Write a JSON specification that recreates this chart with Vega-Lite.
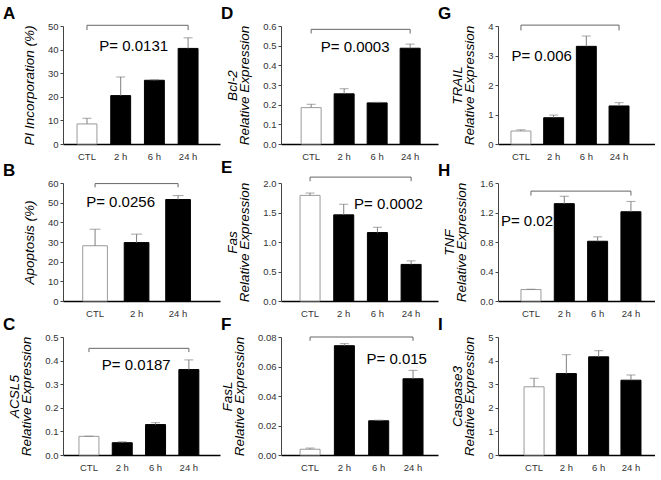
{
 "$schema": "https://vega.github.io/schema/vega-lite/v6.json",
 "padding": {"left": 3, "top": 5, "right": 0, "bottom": 0},
 "background": "white",
 "datasets": {
  "bars": [
   {"p":"A","c":"CTL","v":8.5,"hi":10.9},{"p":"A","c":"2 h","v":20.5,"hi":28.4},{"p":"A","c":"6 h","v":27.0,"hi":27.2},{"p":"A","c":"24 h","v":40.5,"hi":45.0},
   {"p":"B","c":"CTL","v":28.1,"hi":36.5},{"p":"B","c":"2 h","v":29.7,"hi":34.0},{"p":"B","c":"24 h","v":51.6,"hi":53.6},
   {"p":"C","c":"CTL","v":0.079,"hi":0.080},{"p":"C","c":"2 h","v":0.052,"hi":0.056},{"p":"C","c":"6 h","v":0.129,"hi":0.137},{"p":"C","c":"24 h","v":0.362,"hi":0.403},
   {"p":"D","c":"CTL","v":0.185,"hi":0.202},{"p":"D","c":"2 h","v":0.255,"hi":0.281},{"p":"D","c":"6 h","v":0.209,"hi":0.212},{"p":"D","c":"24 h","v":0.487,"hi":0.508},
   {"p":"E","c":"CTL","v":1.79,"hi":1.83},{"p":"E","c":"2 h","v":1.46,"hi":1.64},{"p":"E","c":"6 h","v":1.16,"hi":1.25},{"p":"E","c":"24 h","v":0.62,"hi":0.68},
   {"p":"F","c":"CTL","v":0.0039,"hi":0.0047},{"p":"F","c":"2 h","v":0.0741,"hi":0.0755},{"p":"F","c":"6 h","v":0.0232,"hi":0.0236},{"p":"F","c":"24 h","v":0.0517,"hi":0.0574},
   {"p":"G","c":"CTL","v":0.44,"hi":0.48},{"p":"G","c":"2 h","v":0.89,"hi":0.98},{"p":"G","c":"6 h","v":3.31,"hi":3.66},{"p":"G","c":"24 h","v":1.29,"hi":1.40},
   {"p":"H","c":"CTL","v":0.155,"hi":0.16},{"p":"H","c":"2 h","v":1.32,"hi":1.42},{"p":"H","c":"6 h","v":0.81,"hi":0.87},{"p":"H","c":"24 h","v":1.21,"hi":1.35},
   {"p":"I","c":"CTL","v":2.89,"hi":3.25},{"p":"I","c":"2 h","v":3.45,"hi":4.25},{"p":"I","c":"6 h","v":4.16,"hi":4.42},{"p":"I","c":"24 h","v":3.17,"hi":3.39}
  ],
  "brk": [
   {"p":"A","c":"CTL","y":48.3,"o":1},{"p":"A","c":"CTL","y":50.3,"o":2},{"p":"A","c":"24 h","y":50.3,"o":3},{"p":"A","c":"24 h","y":48.3,"o":4},
   {"p":"B","c":"CTL","y":57.8,"o":1},{"p":"B","c":"CTL","y":59.7,"o":2},{"p":"B","c":"24 h","y":59.7,"o":3},{"p":"B","c":"24 h","y":57.8,"o":4},
   {"p":"C","c":"CTL","y":0.436,"o":1},{"p":"C","c":"CTL","y":0.452,"o":2},{"p":"C","c":"24 h","y":0.452,"o":3},{"p":"C","c":"24 h","y":0.436,"o":4},
   {"p":"D","c":"CTL","y":0.562,"o":1},{"p":"D","c":"CTL","y":0.583,"o":2},{"p":"D","c":"24 h","y":0.583,"o":3},{"p":"D","c":"24 h","y":0.562,"o":4},
   {"p":"E","c":"CTL","y":2.03,"o":1},{"p":"E","c":"CTL","y":2.1,"o":2},{"p":"E","c":"24 h","y":2.1,"o":3},{"p":"E","c":"24 h","y":2.03,"o":4},
   {"p":"F","c":"CTL","y":0.0774,"o":1},{"p":"F","c":"CTL","y":0.08,"o":2},{"p":"F","c":"24 h","y":0.08,"o":3},{"p":"F","c":"24 h","y":0.0774,"o":4},
   {"p":"G","c":"CTL","y":3.85,"o":1},{"p":"G","c":"CTL","y":4.03,"o":2},{"p":"G","c":"24 h","y":4.03,"o":3},{"p":"G","c":"24 h","y":3.85,"o":4},
   {"p":"H","c":"CTL","y":1.43,"o":1},{"p":"H","c":"CTL","y":1.49,"o":2},{"p":"H","c":"24 h","y":1.49,"o":3},{"p":"H","c":"24 h","y":1.43,"o":4}
  ],
  "pv": [
   {"p":"A","c":"2 h","y":41.7,"t":"P= 0.0131"},
   {"p":"B","c":"2 h","y":50.4,"t":"P= 0.0256"},
   {"p":"C","c":"2 h","y":0.38,"t":"P= 0.0187"},
   {"p":"D","c":"2 h","y":0.494,"t":"P= 0.0003"},
   {"p":"E","c":"6 h","y":1.64,"t":"P= 0.0002"},
   {"p":"F","c":"6 h","y":0.0652,"t":"P= 0.015"},
   {"p":"G","c":"2 h","y":3.0,"t":"P= 0.006"},
   {"p":"H","c":"CTL","y":1.09,"t":"P= 0.02"}
  ]
 },
 "columns": 3,
 "spacing": {"row": -2, "column": 0},
 "resolve": {"scale": {"x": "independent", "y": "independent"}},
 "concat": [
  {
   "title": "A", "width": 157, "height": 118,
   "encoding": {"x": {"field":"c","type":"nominal","sort":["CTL","2 h","6 h","24 h"],"scale":{"domain":["CTL","2 h","6 h","24 h"],"paddingInner":0.41,"paddingOuter":0.534,"align":0.39}}},
   "layer": [
    {"data":{"name":"bars"},"transform":[{"filter":"datum.p=='A'"}],"mark":{"type":"bar","strokeWidth":1},
     "encoding":{"y":{"field":"v","type":"quantitative","title":"PI Incorporation (%)","scale":{"domain":[0,50],"nice":false},"axis":{"values":[0,10,20,30,40,50],"tickCount":20,"format":"d","labelOverlap":false,"labelBound":false}},
      "fill":{"field":"c","type":"nominal","scale":{"domain":["CTL","2 h","6 h","24 h"],"range":["white","black","black","black"]},"legend":null},
      "stroke":{"field":"c","type":"nominal","scale":{"domain":["CTL","2 h","6 h","24 h"],"range":["#9a9a9a","black","black","black"]},"legend":null}}},
    {"data":{"name":"bars"},"transform":[{"filter":"datum.p=='A'"}],"mark":{"type":"rule","color":"#7f7f7f"},"encoding":{"y":{"field":"v","type":"quantitative","title":"PI Incorporation (%)"},"y2":{"field":"hi"}}},
    {"data":{"name":"bars"},"transform":[{"filter":"datum.p=='A'"}],"mark":{"type":"tick","color":"#7f7f7f","size":9,"thickness":1},"encoding":{"y":{"field":"hi","type":"quantitative","title":"PI Incorporation (%)"}}},
    {"data":{"name":"brk"},"transform":[{"filter":"datum.p=='A'"}],"mark":{"type":"line","color":"#666","strokeWidth":1},"encoding":{"y":{"field":"y","type":"quantitative","title":"PI Incorporation (%)"},"order":{"field":"o","type":"quantitative"}}},
    {"data":{"name":"pv"},"transform":[{"filter":"datum.p=='A'"}],"mark":{"type":"text","fontSize":15,"dx":13,"baseline":"middle"},"encoding":{"y":{"field":"y","type":"quantitative","title":"PI Incorporation (%)"},"text":{"field":"t"}}}
   ]
  },
  {
   "title": "D", "width": 157, "height": 118,
   "encoding": {"x": {"field":"c","type":"nominal","sort":["CTL","2 h","6 h","24 h"],"scale":{"domain":["CTL","2 h","6 h","24 h"],"paddingInner":0.394,"paddingOuter":0.576,"align":0.53}}},
   "layer": [
    {"data":{"name":"bars"},"transform":[{"filter":"datum.p=='D'"}],"mark":{"type":"bar","strokeWidth":1},
     "encoding":{"y":{"field":"v","type":"quantitative","title":["Bcl-2","Relative Expression"],"scale":{"domain":[0,0.6],"nice":false},"axis":{"values":[0,0.1,0.2,0.3,0.4,0.5,0.6],"tickCount":20,"format":".1f","labelOverlap":false,"labelBound":false}},
      "fill":{"field":"c","type":"nominal","scale":{"domain":["CTL","2 h","6 h","24 h"],"range":["white","black","black","black"]},"legend":null},
      "stroke":{"field":"c","type":"nominal","scale":{"domain":["CTL","2 h","6 h","24 h"],"range":["#9a9a9a","black","black","black"]},"legend":null}}},
    {"data":{"name":"bars"},"transform":[{"filter":"datum.p=='D'"}],"mark":{"type":"rule","color":"#7f7f7f"},"encoding":{"y":{"field":"v","type":"quantitative","title":["Bcl-2","Relative Expression"]},"y2":{"field":"hi"}}},
    {"data":{"name":"bars"},"transform":[{"filter":"datum.p=='D'"}],"mark":{"type":"tick","color":"#7f7f7f","size":9,"thickness":1},"encoding":{"y":{"field":"hi","type":"quantitative","title":["Bcl-2","Relative Expression"]}}},
    {"data":{"name":"brk"},"transform":[{"filter":"datum.p=='D'"}],"mark":{"type":"line","color":"#666","strokeWidth":1},"encoding":{"y":{"field":"y","type":"quantitative","title":["Bcl-2","Relative Expression"]},"order":{"field":"o","type":"quantitative"}}},
    {"data":{"name":"pv"},"transform":[{"filter":"datum.p=='D'"}],"mark":{"type":"text","fontSize":15,"dx":11,"baseline":"middle"},"encoding":{"y":{"field":"y","type":"quantitative","title":["Bcl-2","Relative Expression"]},"text":{"field":"t"}}}
   ]
  },
  {
   "title": "G", "width": 157, "height": 118,
   "encoding": {"x": {"field":"c","type":"nominal","sort":["CTL","2 h","6 h","24 h"],"scale":{"domain":["CTL","2 h","6 h","24 h"],"paddingInner":0.39,"paddingOuter":0.596,"align":0.333}}},
   "layer": [
    {"data":{"name":"bars"},"transform":[{"filter":"datum.p=='G'"}],"mark":{"type":"bar","strokeWidth":1},
     "encoding":{"y":{"field":"v","type":"quantitative","title":["TRAIL","Relative Expression"],"scale":{"domain":[0,4],"nice":false},"axis":{"values":[0,1,2,3,4],"tickCount":20,"format":"d","labelOverlap":false,"labelBound":false}},
      "fill":{"field":"c","type":"nominal","scale":{"domain":["CTL","2 h","6 h","24 h"],"range":["white","black","black","black"]},"legend":null},
      "stroke":{"field":"c","type":"nominal","scale":{"domain":["CTL","2 h","6 h","24 h"],"range":["#9a9a9a","black","black","black"]},"legend":null}}},
    {"data":{"name":"bars"},"transform":[{"filter":"datum.p=='G'"}],"mark":{"type":"rule","color":"#7f7f7f"},"encoding":{"y":{"field":"v","type":"quantitative","title":["TRAIL","Relative Expression"]},"y2":{"field":"hi"}}},
    {"data":{"name":"bars"},"transform":[{"filter":"datum.p=='G'"}],"mark":{"type":"tick","color":"#7f7f7f","size":9,"thickness":1},"encoding":{"y":{"field":"hi","type":"quantitative","title":["TRAIL","Relative Expression"]}}},
    {"data":{"name":"brk"},"transform":[{"filter":"datum.p=='G'"}],"mark":{"type":"line","color":"#666","strokeWidth":1},"encoding":{"y":{"field":"y","type":"quantitative","title":["TRAIL","Relative Expression"]},"order":{"field":"o","type":"quantitative"}}},
    {"data":{"name":"pv"},"transform":[{"filter":"datum.p=='G'"}],"mark":{"type":"text","fontSize":15,"dx":-12,"baseline":"middle"},"encoding":{"y":{"field":"y","type":"quantitative","title":["TRAIL","Relative Expression"]},"text":{"field":"t"}}}
   ]
  },
  {
   "title": "B", "width": 157, "height": 118,
   "encoding": {"x": {"field":"c","type":"nominal","sort":["CTL","2 h","24 h"],"scale":{"domain":["CTL","2 h","24 h"],"paddingInner":0.405,"paddingOuter":0.594,"align":0.4}}},
   "layer": [
    {"data":{"name":"bars"},"transform":[{"filter":"datum.p=='B'"}],"mark":{"type":"bar","strokeWidth":1},
     "encoding":{"y":{"field":"v","type":"quantitative","title":"Apoptosis (%)","scale":{"domain":[0,60],"nice":false},"axis":{"values":[0,10,20,30,40,50,60],"tickCount":20,"format":"d","labelOverlap":false,"labelBound":false}},
      "fill":{"field":"c","type":"nominal","scale":{"domain":["CTL","2 h","6 h","24 h"],"range":["white","black","black","black"]},"legend":null},
      "stroke":{"field":"c","type":"nominal","scale":{"domain":["CTL","2 h","6 h","24 h"],"range":["#9a9a9a","black","black","black"]},"legend":null}}},
    {"data":{"name":"bars"},"transform":[{"filter":"datum.p=='B'"}],"mark":{"type":"rule","color":"#7f7f7f"},"encoding":{"y":{"field":"v","type":"quantitative","title":"Apoptosis (%)"},"y2":{"field":"hi"}}},
    {"data":{"name":"bars"},"transform":[{"filter":"datum.p=='B'"}],"mark":{"type":"tick","color":"#7f7f7f","size":11,"thickness":1},"encoding":{"y":{"field":"hi","type":"quantitative","title":"Apoptosis (%)"}}},
    {"data":{"name":"brk"},"transform":[{"filter":"datum.p=='B'"}],"mark":{"type":"line","color":"#666","strokeWidth":1},"encoding":{"y":{"field":"y","type":"quantitative","title":"Apoptosis (%)"},"order":{"field":"o","type":"quantitative"}}},
    {"data":{"name":"pv"},"transform":[{"filter":"datum.p=='B'"}],"mark":{"type":"text","fontSize":15,"dx":-16,"baseline":"middle"},"encoding":{"y":{"field":"y","type":"quantitative","title":"Apoptosis (%)"},"text":{"field":"t"}}}
   ]
  },
  {
   "title": "E", "width": 157, "height": 118,
   "encoding": {"x": {"field":"c","type":"nominal","sort":["CTL","2 h","6 h","24 h"],"scale":{"domain":["CTL","2 h","6 h","24 h"],"paddingInner":0.406,"paddingOuter":0.533,"align":0.53}}},
   "layer": [
    {"data":{"name":"bars"},"transform":[{"filter":"datum.p=='E'"}],"mark":{"type":"bar","strokeWidth":1},
     "encoding":{"y":{"field":"v","type":"quantitative","title":["Fas","Relative Expression"],"scale":{"domain":[0,2],"nice":false},"axis":{"values":[0,0.5,1,1.5,2],"tickCount":20,"format":".1f","labelOverlap":false,"labelBound":false}},
      "fill":{"field":"c","type":"nominal","scale":{"domain":["CTL","2 h","6 h","24 h"],"range":["white","black","black","black"]},"legend":null},
      "stroke":{"field":"c","type":"nominal","scale":{"domain":["CTL","2 h","6 h","24 h"],"range":["#9a9a9a","black","black","black"]},"legend":null}}},
    {"data":{"name":"bars"},"transform":[{"filter":"datum.p=='E'"}],"mark":{"type":"rule","color":"#7f7f7f"},"encoding":{"y":{"field":"v","type":"quantitative","title":["Fas","Relative Expression"]},"y2":{"field":"hi"}}},
    {"data":{"name":"bars"},"transform":[{"filter":"datum.p=='E'"}],"mark":{"type":"tick","color":"#7f7f7f","size":9,"thickness":1},"encoding":{"y":{"field":"hi","type":"quantitative","title":["Fas","Relative Expression"]}}},
    {"data":{"name":"brk"},"transform":[{"filter":"datum.p=='E'"}],"mark":{"type":"line","color":"#666","strokeWidth":1},"encoding":{"y":{"field":"y","type":"quantitative","title":["Fas","Relative Expression"]},"order":{"field":"o","type":"quantitative"}}},
    {"data":{"name":"pv"},"transform":[{"filter":"datum.p=='E'"}],"mark":{"type":"text","fontSize":15,"dx":11,"baseline":"middle"},"encoding":{"y":{"field":"y","type":"quantitative","title":["Fas","Relative Expression"]},"text":{"field":"t"}}}
   ]
  },
  {
   "title": "H", "width": 157, "height": 118,
   "encoding": {"x": {"field":"c","type":"nominal","sort":["CTL","2 h","6 h","24 h"],"scale":{"domain":["CTL","2 h","6 h","24 h"],"paddingInner":0.4,"paddingOuter":0.556,"align":0.62}}},
   "layer": [
    {"data":{"name":"bars"},"transform":[{"filter":"datum.p=='H'"}],"mark":{"type":"bar","strokeWidth":1},
     "encoding":{"y":{"field":"v","type":"quantitative","title":["TNF","Relative Expression"],"scale":{"domain":[0,1.6],"nice":false},"axis":{"values":[0,0.4,0.8,1.2,1.6],"tickCount":20,"format":".1f","labelOverlap":false,"labelBound":false}},
      "fill":{"field":"c","type":"nominal","scale":{"domain":["CTL","2 h","6 h","24 h"],"range":["white","black","black","black"]},"legend":null},
      "stroke":{"field":"c","type":"nominal","scale":{"domain":["CTL","2 h","6 h","24 h"],"range":["#9a9a9a","black","black","black"]},"legend":null}}},
    {"data":{"name":"bars"},"transform":[{"filter":"datum.p=='H'"}],"mark":{"type":"rule","color":"#7f7f7f"},"encoding":{"y":{"field":"v","type":"quantitative","title":["TNF","Relative Expression"]},"y2":{"field":"hi"}}},
    {"data":{"name":"bars"},"transform":[{"filter":"datum.p=='H'"}],"mark":{"type":"tick","color":"#7f7f7f","size":9,"thickness":1},"encoding":{"y":{"field":"hi","type":"quantitative","title":["TNF","Relative Expression"]}}},
    {"data":{"name":"brk"},"transform":[{"filter":"datum.p=='H'"}],"mark":{"type":"line","color":"#666","strokeWidth":1},"encoding":{"y":{"field":"y","type":"quantitative","title":["TNF","Relative Expression"]},"order":{"field":"o","type":"quantitative"}}},
    {"data":{"name":"pv"},"transform":[{"filter":"datum.p=='H'"}],"mark":{"type":"text","fontSize":15,"dx":-4,"baseline":"middle"},"encoding":{"y":{"field":"y","type":"quantitative","title":["TNF","Relative Expression"]},"text":{"field":"t"}}}
   ]
  },
  {
   "title": "C", "width": 157, "height": 118,
   "encoding": {"x": {"field":"c","type":"nominal","sort":["CTL","2 h","6 h","24 h"],"scale":{"domain":["CTL","2 h","6 h","24 h"],"paddingInner":0.4,"paddingOuter":0.557,"align":0.43}}},
   "layer": [
    {"data":{"name":"bars"},"transform":[{"filter":"datum.p=='C'"}],"mark":{"type":"bar","strokeWidth":1},
     "encoding":{"y":{"field":"v","type":"quantitative","title":["ACSL5","Relative Expression"],"scale":{"domain":[0,0.5],"nice":false},"axis":{"values":[0,0.1,0.2,0.3,0.4,0.5],"tickCount":20,"format":".1f","labelOverlap":false,"labelBound":false}},
      "fill":{"field":"c","type":"nominal","scale":{"domain":["CTL","2 h","6 h","24 h"],"range":["white","black","black","black"]},"legend":null},
      "stroke":{"field":"c","type":"nominal","scale":{"domain":["CTL","2 h","6 h","24 h"],"range":["#9a9a9a","black","black","black"]},"legend":null}}},
    {"data":{"name":"bars"},"transform":[{"filter":"datum.p=='C'"}],"mark":{"type":"rule","color":"#7f7f7f"},"encoding":{"y":{"field":"v","type":"quantitative","title":["ACSL5","Relative Expression"]},"y2":{"field":"hi"}}},
    {"data":{"name":"bars"},"transform":[{"filter":"datum.p=='C'"}],"mark":{"type":"tick","color":"#7f7f7f","size":9,"thickness":1},"encoding":{"y":{"field":"hi","type":"quantitative","title":["ACSL5","Relative Expression"]}}},
    {"data":{"name":"brk"},"transform":[{"filter":"datum.p=='C'"}],"mark":{"type":"line","color":"#666","strokeWidth":1},"encoding":{"y":{"field":"y","type":"quantitative","title":["ACSL5","Relative Expression"]},"order":{"field":"o","type":"quantitative"}}},
    {"data":{"name":"pv"},"transform":[{"filter":"datum.p=='C'"}],"mark":{"type":"text","fontSize":15,"dx":14,"baseline":"middle"},"encoding":{"y":{"field":"y","type":"quantitative","title":["ACSL5","Relative Expression"]},"text":{"field":"t"}}}
   ]
  },
  {
   "title": "F", "width": 157, "height": 118,
   "encoding": {"x": {"field":"c","type":"nominal","sort":["CTL","2 h","6 h","24 h"],"scale":{"domain":["CTL","2 h","6 h","24 h"],"paddingInner":0.417,"paddingOuter":0.496,"align":0.56}}},
   "layer": [
    {"data":{"name":"bars"},"transform":[{"filter":"datum.p=='F'"}],"mark":{"type":"bar","strokeWidth":1},
     "encoding":{"y":{"field":"v","type":"quantitative","title":["FasL","Relative Expression"],"scale":{"domain":[0,0.08],"nice":false},"axis":{"values":[0,0.02,0.04,0.06,0.08],"tickCount":20,"format":".2f","labelOverlap":false,"labelBound":false}},
      "fill":{"field":"c","type":"nominal","scale":{"domain":["CTL","2 h","6 h","24 h"],"range":["white","black","black","black"]},"legend":null},
      "stroke":{"field":"c","type":"nominal","scale":{"domain":["CTL","2 h","6 h","24 h"],"range":["#9a9a9a","black","black","black"]},"legend":null}}},
    {"data":{"name":"bars"},"transform":[{"filter":"datum.p=='F'"}],"mark":{"type":"rule","color":"#7f7f7f"},"encoding":{"y":{"field":"v","type":"quantitative","title":["FasL","Relative Expression"]},"y2":{"field":"hi"}}},
    {"data":{"name":"bars"},"transform":[{"filter":"datum.p=='F'"}],"mark":{"type":"tick","color":"#7f7f7f","size":9,"thickness":1},"encoding":{"y":{"field":"hi","type":"quantitative","title":["FasL","Relative Expression"]}}},
    {"data":{"name":"brk"},"transform":[{"filter":"datum.p=='F'"}],"mark":{"type":"line","color":"#666","strokeWidth":1},"encoding":{"y":{"field":"y","type":"quantitative","title":["FasL","Relative Expression"]},"order":{"field":"o","type":"quantitative"}}},
    {"data":{"name":"pv"},"transform":[{"filter":"datum.p=='F'"}],"mark":{"type":"text","fontSize":15,"dx":18,"baseline":"middle"},"encoding":{"y":{"field":"y","type":"quantitative","title":["FasL","Relative Expression"]},"text":{"field":"t"}}}
   ]
  },
  {
   "title": "I", "width": 157, "height": 118,
   "encoding": {"x": {"field":"c","type":"nominal","sort":["CTL","2 h","6 h","24 h"],"scale":{"domain":["CTL","2 h","6 h","24 h"],"paddingInner":0.38,"paddingOuter":0.62,"align":0.65}}},
   "layer": [
    {"data":{"name":"bars"},"transform":[{"filter":"datum.p=='I'"}],"mark":{"type":"bar","strokeWidth":1},
     "encoding":{"y":{"field":"v","type":"quantitative","title":["Caspase3","Relative Expression"],"scale":{"domain":[0,5],"nice":false},"axis":{"values":[0,1,2,3,4,5],"tickCount":20,"format":"d","labelOverlap":false,"labelBound":false}},
      "fill":{"field":"c","type":"nominal","scale":{"domain":["CTL","2 h","6 h","24 h"],"range":["white","black","black","black"]},"legend":null},
      "stroke":{"field":"c","type":"nominal","scale":{"domain":["CTL","2 h","6 h","24 h"],"range":["#9a9a9a","black","black","black"]},"legend":null}}},
    {"data":{"name":"bars"},"transform":[{"filter":"datum.p=='I'"}],"mark":{"type":"rule","color":"#7f7f7f"},"encoding":{"y":{"field":"v","type":"quantitative","title":["Caspase3","Relative Expression"]},"y2":{"field":"hi"}}},
    {"data":{"name":"bars"},"transform":[{"filter":"datum.p=='I'"}],"mark":{"type":"tick","color":"#7f7f7f","size":9,"thickness":1},"encoding":{"y":{"field":"hi","type":"quantitative","title":["Caspase3","Relative Expression"]}}}
   ]
  }
 ],
 "config": {
  "view": {"stroke": null},
  "font": "Liberation Sans",
  "text": {"font": "Liberation Sans", "color": "black"},
  "title": {"anchor": "start", "frame": "group", "dx": -60, "fontSize": 17, "fontWeight": "bold", "font": "Liberation Sans", "offset": -2, "color": "black"},
  "axisX": {"labelFontSize": 9.5, "labelColor": "#333", "labelFont": "Liberation Sans", "ticks": false, "domainColor": "black", "domainWidth": 1.5, "labelPadding": 7, "labelAngle": 0, "title": null, "labelOverlap": false},
  "axisY": {"labelFontSize": 9.5, "labelColor": "#333", "labelFont": "Liberation Sans", "tickColor": "#444", "tickSize": 3, "domainColor": "#444", "grid": false, "titleFont": "Liberation Sans", "titleFontStyle": "italic", "titleFontWeight": "normal", "titleFontSize": 13.5, "titleColor": "black", "titlePadding": 11, "titleLineHeight": 12, "labelPadding": 2, "labelOverlap": false, "labelFlush": false}
 }
}
